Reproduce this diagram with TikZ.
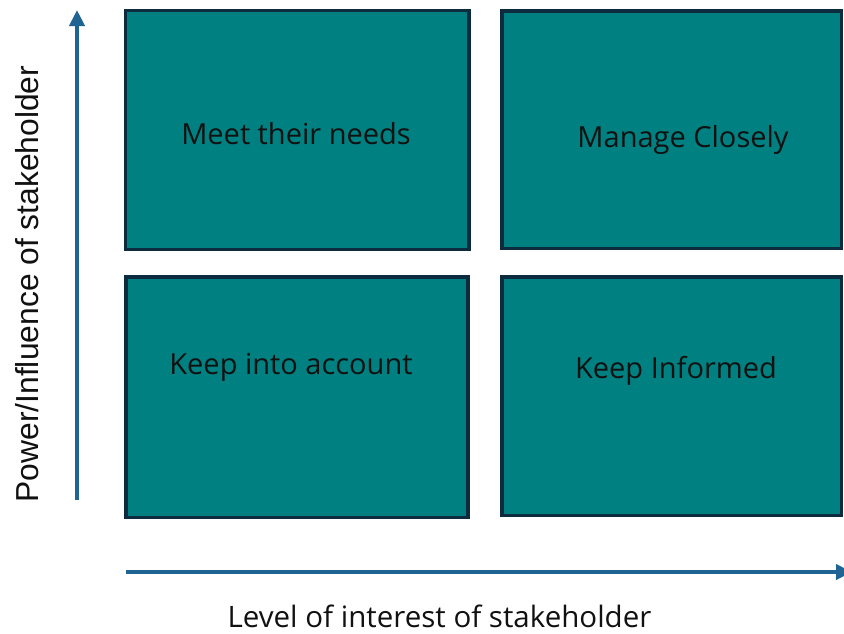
\documentclass[tikz,border=0pt]{standalone}
\usepackage{fontspec}
\usetikzlibrary{arrows.meta}
\newfontfamily\boxfont{Open Sans}
\newfontfamily\axisfont{Liberation Sans}
\definecolor{tealfill}{HTML}{008080}
\definecolor{boxborder}{HTML}{0D2B3E}
\definecolor{axiscol}{HTML}{1F6492}
\definecolor{txt}{HTML}{111111}
\tikzset{
  quad/.style={draw=boxborder, fill=tealfill, line width=3.5pt, rectangle, inner sep=0pt},
  quadtext/.style={anchor=base, inner sep=0pt, text=txt, font=\boxfont\fontsize{29}{34}\selectfont},
  axisarrow/.style={draw=axiscol, line width=4pt, -{Triangle[width=15pt,length=16pt]}},
  axislabel/.style={inner sep=0pt, text=txt},
}
\begin{document}
\begin{tikzpicture}[x=1pt,y=-1pt]
\useasboundingbox (0,0) rectangle (844,633);
% boxes
\node[quad, minimum width=343.5pt, minimum height=239pt] (tl) at (297,129.75) {};
\node[quad, minimum width=339.5pt, minimum height=237.5pt] (tr) at (671.5,129.5) {};
\node[quad, minimum width=342pt, minimum height=240.5pt] (bl) at (296.75,397) {};
\node[quad, minimum width=339.5pt, minimum height=238.5pt] (br) at (671.5,396) {};
% texts
\node[quadtext] (ttl) at (296,144) {Meet their needs};
\node[quadtext] (ttr) at (683,147) {Manage Closely};
\node[quadtext] (tbl) at (291,374) {Keep into account};
\node[quadtext] (tbr) at (676,378) {Keep Informed};
% axes
\coordinate (v0) at (77,500);
\coordinate (v1) at (77,10);
\coordinate (h0) at (126,572);
\coordinate (h1) at (852,572);
\draw[axisarrow] (v0) -- (v1);
\draw[axisarrow] (h0) -- (h1);
\node[axislabel, anchor=base, font=\boxfont\fontsize{29.5}{34}\selectfont] (xl) at (439.5,627) {Level of interest of stakeholder};
\node[axislabel, anchor=base, rotate=90, font=\axisfont\fontsize{31.8}{36}\selectfont] (yl) at (38,284) {Power/Influence of stakeholder};
\end{tikzpicture}
\end{document}
